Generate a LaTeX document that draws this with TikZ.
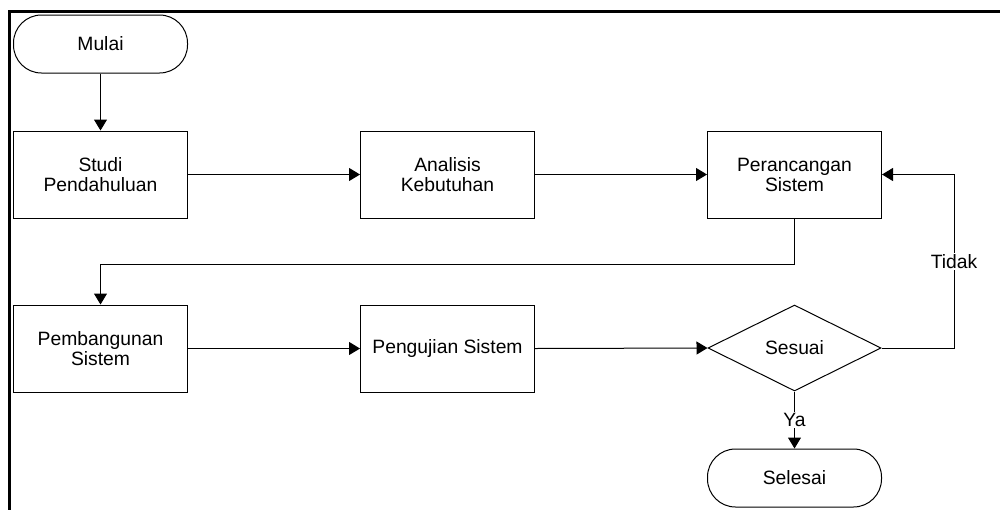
\documentclass[tikz,border=0pt]{standalone}
\usepackage{fontspec}
\setmainfont{Liberation Sans}
\usetikzlibrary{shapes.geometric,arrows.meta}

\tikzset{
  base/.style={draw=black, line width=1pt, align=center, inner sep=0pt,
               font=\fontsize{19.3}{20}\selectfont},
  procbox/.style={base, rectangle, minimum width=174pt, minimum height=87pt},
  terminal/.style={base, rectangle, rounded corners=28pt,
                   minimum width=174pt, minimum height=58pt},
  decision/.style={base, diamond, aspect=2, minimum width=173pt, minimum height=86pt},
  flow/.style={draw=black, line width=1pt, -{Triangle[length=11pt,width=13pt]}},
  tag/.style={fill=white, inner sep=1.5pt, font=\fontsize{19.3}{20}\selectfont},
}

\begin{document}
\begin{tikzpicture}[x=1pt,y=-1pt]
  \useasboundingbox (0,0) rectangle (1000,509);

  % page frame (top and left edges)
  \draw[line width=3.2pt] (1002,11.5) -- (9.5,11.5) -- (9.5,512);

  % nodes
  \node[terminal] (mulai)   at (100.5,44)    {Mulai};
  \node[procbox]  (studi)   at (100.5,174.5) {Studi\\Pendahuluan};
  \node[procbox]  (analisis) at (447.5,174.5) {Analisis\\Kebutuhan};
  \node[procbox]  (rancang) at (794.5,174.5) {Perancangan\\Sistem};
  \node[procbox]  (bangun)  at (100.5,348.5) {Pembangunan\\Sistem};
  \node[procbox]  (uji)     at (447.5,348.5) {Pengujian Sistem};
  \node[decision] (sesuai)  at (794.5,348)   {Sesuai};
  \node[terminal] (selesai) at (794.5,478)   {Selesai};

  % connectors
  \draw[flow] (mulai.south) -- (studi.north);
  \draw[flow] (studi.east) -- (analisis.west);
  \draw[flow] (analisis.east) -- (rancang.west);
  \draw[flow] (rancang.south) -- ++(0,46) -| (bangun.north);
  \draw[flow] (bangun.east) -- (uji.west);
  \draw[flow] (uji.east) -- (sesuai.west);
  \draw[flow] (sesuai.east) -- ++(72.5,0) |- node[tag, pos=0.25] {Tidak} (rancang.east);
  \draw[flow] (sesuai.south) -- node[tag] {Ya} (selesai.north);
\end{tikzpicture}
\end{document}
